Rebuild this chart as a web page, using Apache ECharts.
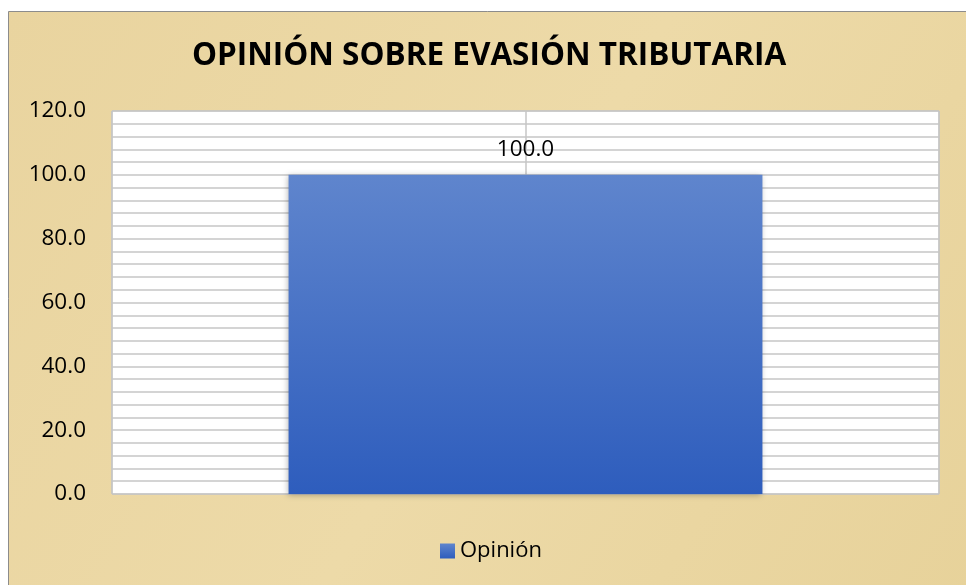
<!DOCTYPE html>
<html>
<head>
<meta charset="utf-8">
<script src="https://cdn.jsdelivr.net/npm/echarts@6/dist/echarts.min.js"></script>
<style>
html,body{margin:0;padding:0;background:#fff;}
#c{width:966px;height:585px;}
</style>
</head>
<body>
<div id="c"></div>
<script>
var titleText = 'OPINIÓN SOBRE EVASIÓN TRIBUTARIA';
var categories = ['Opinión'];
var seriesName = 'Opinión';
var values = [100.0];
var yMin = 0, yMax = 120, yInterval = 20;

var chart = echarts.init(document.getElementById('c'));
var font = '"Open Sans", "Noto Sans", sans-serif';
chart.setOption({
  backgroundColor: '#fff',
  animation: false,
  graphic: [{
    type: 'rect', z: -10, silent: true,
    shape: {x: 8.5, y: 11.5, width: 970, height: 590},
    style: {
      fill: new echarts.graphic.LinearGradient(0, 0, 1, 1, [
        {offset: 0, color: '#e9d49f'},
        {offset: 0.5, color: '#eddaa8'},
        {offset: 1, color: '#e7d29a'}
      ]),
      stroke: '#8c8c8c', lineWidth: 1
    }
  }],
  title: {
    text: titleText, left: 484, top: 35, textAlign: 'center',
    textStyle: {fontFamily: font, fontWeight: 'bold', fontSize: 31.5, color: '#000'}
  },
  legend: {
    data: [seriesName], top: 535, left: 435,
    itemWidth: 15, itemHeight: 15, icon: 'rect', itemGap: 4,
    textStyle: {fontFamily: font, fontSize: 22, color: '#000'}
  },
  grid: {left: 112, right: 27, top: 111, bottom: 91, show: true, backgroundColor: '#fff', borderColor: '#bdbdbd', borderWidth: 1},
  xAxis: [{
    type: 'category', data: categories,
    axisLine: {show: false}, axisTick: {show: false}, axisLabel: {show: false}, splitLine: {show: false}
  }, {
    type: 'value', min: 0, max: 2, interval: 1, position: 'bottom',
    axisLine: {show: false}, axisTick: {show: false}, axisLabel: {show: false},
    splitLine: {show: true, lineStyle: {color: '#c6c6c6', width: 1.5}}
  }],
  yAxis: {
    type: 'value', min: yMin, max: yMax, interval: yInterval,
    axisLine: {show: false}, axisTick: {show: false},
    axisLabel: {fontFamily: font, fontSize: 22.5, color: '#000', margin: 26, formatter: function (v) { return v.toFixed(1); }},
    splitLine: {show: true, lineStyle: {color: '#c6c6c6', width: 1.5}},
    minorTick: {show: false, splitNumber: 5},
    minorSplitLine: {show: true, lineStyle: {color: '#c6c6c6', width: 1.5}}
  },
  series: [{
    type: 'bar', name: seriesName, data: values, xAxisIndex: 0,
    barWidth: '57.3%',
    itemStyle: {
      color: new echarts.graphic.LinearGradient(0, 0, 0, 1, [
        {offset: 0, color: '#5f85cd'},
        {offset: 1, color: '#2e5dbd'}
      ]),
      shadowBlur: 6, shadowColor: 'rgba(0,0,0,0.3)', shadowOffsetX: -1, shadowOffsetY: 1
    },
    label: {
      show: true, position: 'top', distance: 14,
      fontFamily: font, fontSize: 22.5, color: '#000',
      formatter: function (p) { return p.value.toFixed(1); }
    }
  }]
});
</script>
</body>
</html>
